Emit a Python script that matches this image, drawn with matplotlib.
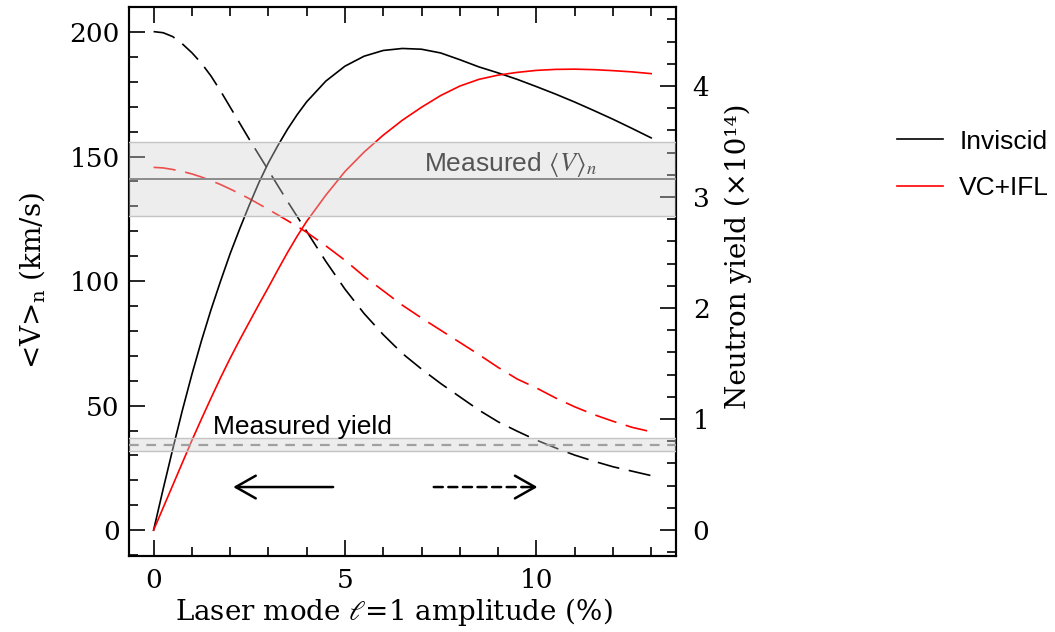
import matplotlib
matplotlib.use('Agg')
import matplotlib.pyplot as plt
from matplotlib.ticker import MultipleLocator
from matplotlib.patches import Rectangle
from matplotlib.transforms import blended_transform_factory

plt.rcParams['font.family'] = ['DejaVu Serif']
plt.rcParams['lines.scale_dashes'] = False

# l=1 amplitude (%), finer steps where the curves bend most
amp = [0, 0.25, 0.5, 0.75, 1, 1.25, 1.5, 1.75, 2, 2.25, 2.5, 2.75, 3, 3.25,
       3.5, 3.75, 4, 4.5, 5, 5.5, 6, 6.5, 7, 7.5, 8, 8.5, 9, 9.5, 10, 10.5,
       11, 11.5, 12, 12.5, 13]

# <V>_n in km/s (solid, left axis)
v_inviscid = [0, 16.5, 32.5, 48, 62.5, 76, 88.5, 100, 111, 121, 130.5, 139.5,
              147.5, 154.5, 161, 166.8, 172, 180.3, 186.3, 190.3, 192.6, 193.4,
              193.1, 191.6, 188.9, 186, 183.6, 181, 178.1, 175.1, 171.9, 168.5,
              165, 161.3, 157.5]
v_vcifl = [0, 9, 18, 27, 36, 44.6, 53, 61.2, 69, 76.4, 83.5, 90.6, 97.5, 104.6,
           111.5, 118, 124, 134.5, 144, 151.8, 158.6, 164.6, 169.8, 174.5,
           178.3, 181, 182.7, 183.8, 184.6, 185, 185.1, 184.9, 184.5, 184, 183.3]

# neutron yield in 1e14 (dashed, right axis)
y_inviscid = [4.49, 4.48, 4.445, 4.38, 4.30, 4.205, 4.09, 3.955, 3.81, 3.665,
              3.52, 3.38, 3.24, 3.10, 2.96, 2.825, 2.69, 2.42, 2.17, 1.95, 1.76,
              1.59, 1.45, 1.32, 1.20, 1.08, 0.975, 0.89, 0.81, 0.74, 0.675,
              0.62, 0.57, 0.53, 0.49]
y_vcifl = [3.267, 3.262, 3.248, 3.23, 3.208, 3.18, 3.148, 3.112, 3.072, 3.03,
           2.985, 2.937, 2.888, 2.838, 2.787, 2.735, 2.682, 2.56, 2.43, 2.285,
           2.155, 2.025, 1.91, 1.80, 1.69, 1.58, 1.465, 1.36, 1.28, 1.19, 1.11,
           1.04, 0.98, 0.925, 0.885]

# measurements
v_meas, v_lo, v_hi = 141, 126, 156
yld_meas, yld_lo, yld_hi = 0.769, 0.714, 0.83

labels = ['Inviscid', 'VC+IFL']
colors = ['black', 'red']

fig = plt.figure(figsize=(10.55, 6.32), dpi=100)
ax = fig.add_axes([0.122, 0.121, 0.5188, 0.8685])
ax2 = ax.twinx()
# left axes on top so the bands shade everything
ax.set_zorder(2)
ax.patch.set_visible(False)

l1, = ax.plot(amp, v_inviscid, color=colors[0], lw=1.2)
l2, = ax.plot(amp, v_vcifl, color=colors[1], lw=1.2)
ax2.plot(amp, y_inviscid, color=colors[0], lw=1.2, dashes=(16, 7))
ax2.plot(amp, y_vcifl, color=colors[1], lw=1.2, dashes=(16, 7))

ax.set_xlim(-0.65, 13.65)
ax.set_ylim(-10.2, 210.2)
ax2.set_ylim(-0.23, 4.715)

band = dict(fc='#d2d2d2', alpha=0.38, ec='none', zorder=3)
edge = dict(color='#c4c4c4', lw=1.0, zorder=3)

# measured <V>_n
ax.axhspan(v_lo, v_hi, **band)
ax.axhline(v_lo, **edge)
ax.axhline(v_hi, **edge)
ax.axhline(v_meas, color='#8c8c8c', lw=1.4, zorder=4)

# measured yield, in right-axis units
tr = blended_transform_factory(ax.transAxes, ax2.transData)
ax.add_patch(Rectangle((0, yld_lo), 1, yld_hi - yld_lo, transform=tr, **band))
ax.plot([0, 1], [yld_lo, yld_lo], transform=tr, **edge)
ax.plot([0, 1], [yld_hi, yld_hi], transform=tr, **edge)
ax.plot([0, 1], [yld_meas, yld_meas], transform=tr, color='#a0a0a0', lw=1.6,
        dashes=(7, 5.5), zorder=4)

ax.text(7.07, 144.3, r'Measured $\langle V\rangle_n$', family='Liberation Sans',
        size=19, color='#555555', va='baseline', math_fontfamily='stix', zorder=5)
ax.text(1.55, 38.6, 'Measured yield', family='Liberation Sans', size=19,
        color='black', va='baseline', zorder=5)

# arrows: solid -> left axis, dashed -> right axis
arr_y = 17.3
head = '->,head_length=0.6,head_width=0.34'
ax.annotate('', xy=(2.08, arr_y), xytext=(4.69, arr_y),
            arrowprops=dict(arrowstyle=head, lw=1.8, color='k',
                            shrinkA=0, shrinkB=0, mutation_scale=24))
ax.annotate('', xy=(9.65, arr_y), xytext=(7.32, arr_y),
            arrowprops=dict(arrowstyle='-', lw=1.8, color='k', ls=(0, (6.5, 4)),
                            shrinkA=0, shrinkB=0))
ax.annotate('', xy=(10.03, arr_y), xytext=(9.65, arr_y),
            arrowprops=dict(arrowstyle=head, lw=1.8, color='k',
                            shrinkA=0, shrinkB=0, mutation_scale=24))

# ticks
ax.xaxis.set_major_locator(MultipleLocator(5))
ax.xaxis.set_minor_locator(MultipleLocator(1))
ax.yaxis.set_major_locator(MultipleLocator(50))
ax.yaxis.set_minor_locator(MultipleLocator(10))
ax2.yaxis.set_major_locator(MultipleLocator(1))
ax2.yaxis.set_minor_locator(MultipleLocator(0.2))

ax.tick_params(which='both', direction='in', top=True, right=False, width=1.2,
               labelsize=19)
ax.tick_params(which='major', length=11.5)
ax.tick_params(which='minor', length=6.5)
ax.tick_params(axis='x', pad=9)
ax.tick_params(axis='y', pad=6.5)
ax2.tick_params(which='both', direction='in', width=1.2, labelsize=19, pad=12)
ax2.tick_params(which='major', length=11.5)
ax2.tick_params(which='minor', length=6.5)
for a in (ax, ax2):
    for s in a.spines.values():
        s.set_linewidth(1.5)

ax.set_xlabel(r'Laser mode $\ell$=1 amplitude (%)', size=20,
              math_fontfamily='dejavuserif')
ax.xaxis.set_label_coords(0.485, -0.074)
ax.set_ylabel(r'<V>$_{\rm n}$ (km/s)', size=20, math_fontfamily='dejavuserif')
ax.yaxis.set_label_coords(-0.149, 0.502)
ax2.set_ylabel('Neutron yield (×10¹⁴)', size=20)
ax2.yaxis.set_label_coords(1.088, 0.546)

fig.legend([l1, l2], labels, loc='upper left', bbox_to_anchor=(0.85, 0.795),
           frameon=False, prop={'family': 'Liberation Sans', 'size': 19},
           handlelength=1.75, handletextpad=0.62, labelspacing=0.85,
           borderpad=0, borderaxespad=0)

fig.savefig('out.png', dpi=100)
